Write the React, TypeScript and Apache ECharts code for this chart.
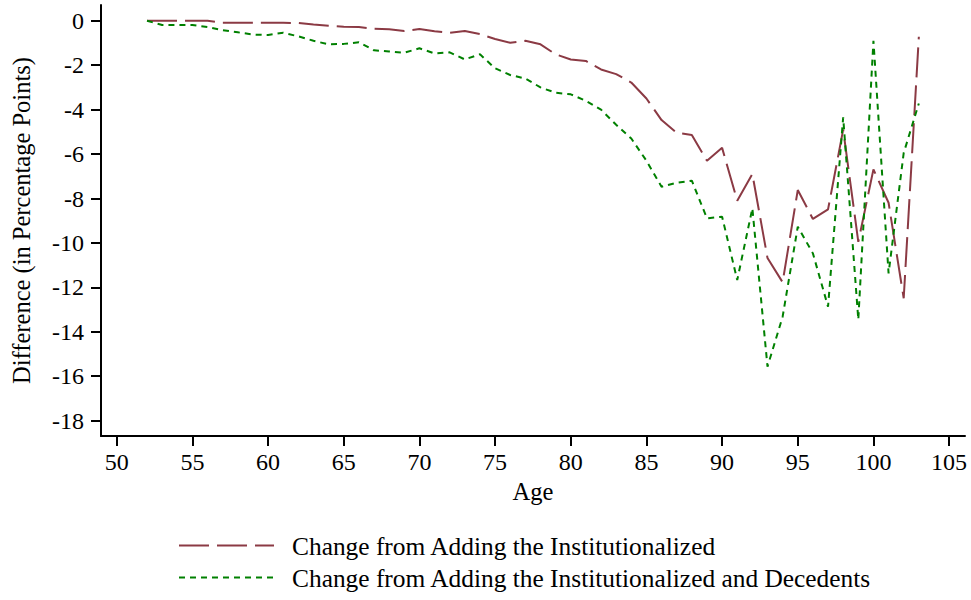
import React, { useEffect, useRef } from "react";
import * as echarts from "echarts";

const ages = [52, 53, 54, 55, 56, 57, 58, 59, 60, 61, 62, 63, 64, 65, 66, 67, 68, 69, 70, 71, 72, 73, 74, 75, 76, 77, 78, 79, 80, 81, 82, 83, 84, 85, 86, 87, 88, 89, 90, 91, 92, 93, 94, 95, 96, 97, 98, 99, 100, 101, 102, 103];

const institutionalized = [0, 0, 0, 0, 0, -0.09, -0.09, -0.09, -0.09, -0.09, -0.1, -0.17, -0.22, -0.27, -0.28, -0.36, -0.38, -0.46, -0.37, -0.47, -0.54, -0.46, -0.6, -0.82, -0.99, -0.9, -1.06, -1.51, -1.74, -1.81, -2.19, -2.4, -2.78, -3.5, -4.47, -5.04, -5.14, -6.3, -5.72, -8.1, -6.9, -10.68, -11.77, -7.62, -8.92, -8.49, -4.9, -9.95, -6.69, -8.19, -12.49, -0.72];

const instAndDecedents = [0, -0.19, -0.19, -0.19, -0.28, -0.42, -0.52, -0.62, -0.64, -0.54, -0.7, -0.9, -1.06, -1.04, -0.97, -1.33, -1.38, -1.44, -1.24, -1.47, -1.42, -1.74, -1.51, -2.14, -2.44, -2.6, -3.0, -3.24, -3.31, -3.6, -4.0, -4.68, -5.3, -6.3, -7.47, -7.29, -7.2, -8.89, -8.82, -11.67, -8.44, -15.57, -13.32, -9.27, -10.47, -12.87, -4.35, -13.45, -0.9, -11.37, -5.95, -3.72];

const xTicks = [50, 55, 60, 65, 70, 75, 80, 85, 90, 95, 100, 105];
const yTicks = [0, -2, -4, -6, -8, -10, -12, -14, -16, -18];

const seriesNames = [
  "Change from Adding the Institutionalized",
  "Change from Adding the Institutionalized and Decedents",
];

const FONT = "'Liberation Serif', 'Times New Roman', serif";

export default function App() {
  const ref = useRef<HTMLDivElement>(null);

  useEffect(() => {
    if (!ref.current) return;
    const chart = echarts.init(ref.current, null, { renderer: "svg" });
    const axisLineStyle = { color: "#000", width: 2 };
    chart.setOption({
      animation: false,
      backgroundColor: "#fff",
      grid: {
        left: 101,
        right: 6,
        top: 5,
        bottom: 164,
        containLabel: false,
        outerBoundsMode: "none",
      },
      legend: {
        orient: "vertical",
        left: 173,
        top: 528,
        itemWidth: 95,
        itemHeight: 14,
        itemGap: 7,
        data: seriesNames,
        itemStyle: {
          opacity: 0,
          color: "rgba(0,0,0,0)",
          borderColor: "rgba(0,0,0,0)",
          borderWidth: 0,
        },
        textStyle: {
          fontFamily: FONT,
          fontSize: 25.4,
          color: "#000",
          padding: [0, 0, 0, 13],
        },
      },
      xAxis: {
        type: "value",
        min: 48.96,
        max: 106.05,
        name: "Age",
        nameLocation: "middle",
        nameGap: 43,
        nameMoveOverlap: false,
        nameTextStyle: { fontFamily: FONT, fontSize: 24.5, color: "#000" },
        axisLine: { show: true, onZero: false, lineStyle: axisLineStyle },
        axisTick: {
          show: true,
          length: 10,
          inside: false,
          customValues: xTicks,
          lineStyle: { color: "#000", width: 2 },
        },
        axisLabel: {
          customValues: xTicks,
          fontFamily: FONT,
          fontSize: 24,
          color: "#000",
          margin: 14,
        },
        splitLine: { show: false },
      },
      yAxis: {
        type: "value",
        min: -18.69,
        max: 0.71,
        name: "Difference (in Percentage Points)",
        nameLocation: "middle",
        nameGap: 67,
        nameMoveOverlap: false,
        nameTextStyle: { fontFamily: FONT, fontSize: 24.5, color: "#000" },
        axisLine: { show: true, onZero: false, lineStyle: axisLineStyle },
        axisTick: {
          show: true,
          length: 10,
          inside: false,
          customValues: yTicks,
          lineStyle: { color: "#000", width: 2 },
        },
        axisLabel: {
          customValues: yTicks,
          fontFamily: FONT,
          fontSize: 24,
          color: "#000",
          margin: 17,
        },
        splitLine: { show: false },
      },
      series: [
        {
          name: seriesNames[0],
          type: "line",
          symbol: "none",
          showSymbol: false,
          data: ages.map((a, i) => [a, institutionalized[i]]),
          lineStyle: { color: "#8b3a44", width: 2, type: [30, 8] },
          itemStyle: { color: "#8b3a44" },
          z: 2,
        },
        {
          name: seriesNames[1],
          type: "line",
          symbol: "none",
          showSymbol: false,
          data: ages.map((a, i) => [a, instAndDecedents[i]]),
          lineStyle: { color: "#008000", width: 2, type: [6, 5] },
          itemStyle: { color: "#008000" },
          z: 3,
        },
      ],
    });
    return () => chart.dispose();
  }, []);

  return (
    <div
      ref={ref}
      style={{ position: "fixed", left: 0, top: 0, width: 971, height: 600, background: "#fff" }}
    />
  );
}
